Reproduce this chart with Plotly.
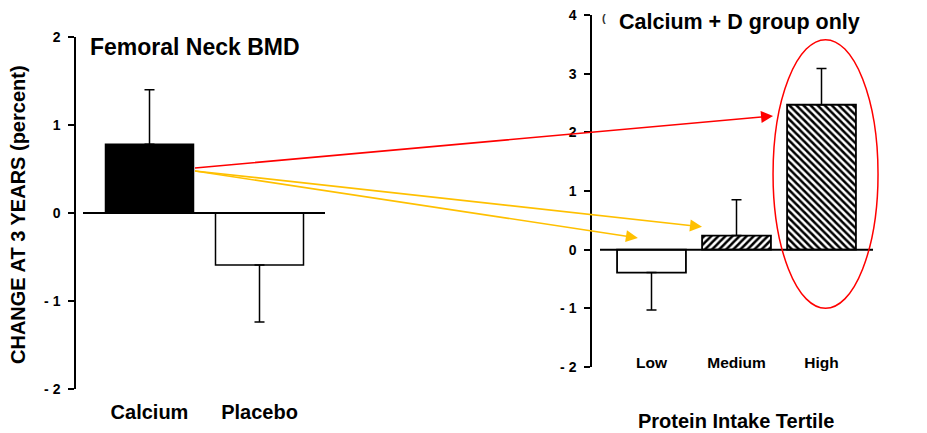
import plotly.graph_objects as go

W, H = 927, 433

# ---- data ----
left_categories = ["Calcium", "Placebo"]
left_values = [0.78, -0.59]
left_errors = [0.62, 0.65]

right_categories = ["Low", "Medium", "High"]
right_values = [-0.39, 0.24, 2.47]
right_errors = [0.64, 0.61, 0.62]

left_tickvals = [-2, -1, 0, 1, 2]
left_ticktext = ["- 2", "- 1", "0", "1", "2"]
right_tickvals = [-2, -1, 0, 1, 2, 3, 4]
right_ticktext = ["- 2", "- 1", "0", "1", "2", "3", "4"]

FONT = "Liberation Sans, Arial, sans-serif"

# ---- layout geometry (pixels) ----
L_xdom = (83, 325); L_xrange = [(83 - 149.5) / 110, (325 - 149.5) / 110]
L_ydom = (37, 389); L_yrange = [-2, 2]
R_xdom = (600, 882); R_xrange = [(600 - 651.5) / 85, (882 - 651.5) / 85]
R_ydom = (15, 367); R_yrange = [-2, 4]


def px(v, dom, rng):
    return dom[0] + (v - rng[0]) / (rng[1] - rng[0]) * (dom[1] - dom[0])


def py(v, dom, rng):
    return dom[1] - (v - rng[0]) / (rng[1] - rng[0]) * (dom[1] - dom[0])


def split_err(vals, errs):
    up = [e if v >= 0 else 0 for v, e in zip(vals, errs)]
    dn = [e if v < 0 else 0 for v, e in zip(vals, errs)]
    return up, dn


fig = go.Figure()

lu, ld = split_err(left_values, left_errors)
fig.add_trace(go.Bar(
    x=left_categories, y=left_values, width=0.8,
    marker=dict(color=["black", "white"], line=dict(color="black", width=1.5)),
    error_y=dict(type="data", symmetric=False, array=lu, arrayminus=ld,
                 color="black", thickness=1.5, width=5),
    xaxis="x", yaxis="y", showlegend=False,
))

ru, rd = split_err(right_values, right_errors)
fig.add_trace(go.Bar(
    x=right_categories, y=right_values, width=0.81,
    marker=dict(color="white", line=dict(color="black", width=1.8),
                pattern=dict(shape=["", "/", "\\"], fgcolor="black", bgcolor="white",
                             size=5, solidity=0.5)),
    error_y=dict(type="data", symmetric=False, array=ru, arrayminus=rd,
                 color="black", thickness=1.5, width=5),
    xaxis="x2", yaxis="y2", showlegend=False,
))

axis_common = dict(showgrid=False, zeroline=False, linecolor="black", linewidth=1.5,
                   automargin=False, ticklabelstandoff=5,
                   tickfont=dict(family=FONT, size=14, color="black", weight="bold"))

fig.update_layout(
    template="none",
    width=W, height=H,
    margin=dict(l=0, r=0, t=0, b=0, pad=0, autoexpand=False),
    paper_bgcolor="white", plot_bgcolor="rgba(0,0,0,0)",
    xaxis=dict(domain=[L_xdom[0] / W, L_xdom[1] / W], range=L_xrange, showgrid=False,
               zeroline=False, showline=False, ticks="", anchor="free", automargin=False,
               position=1 - 398 / H,
               tickfont=dict(family=FONT, size=20, color="black", weight="bold")),
    yaxis=dict(domain=[1 - L_ydom[1] / H, 1 - L_ydom[0] / H], range=L_yrange,
               anchor="free", position=75 / W, showline=True, ticks="outside",
               ticklen=6, tickwidth=1.5, tickcolor="black",
               tickvals=left_tickvals, ticktext=left_ticktext, **axis_common),
    xaxis2=dict(domain=[R_xdom[0] / W, R_xdom[1] / W], range=R_xrange, showgrid=False,
                zeroline=False, showline=False, ticks="", anchor="free", automargin=False,
                position=1 - 351 / H,
                tickfont=dict(family=FONT, size=15.5, color="black", weight="bold")),
    yaxis2=dict(domain=[1 - R_ydom[1] / H, 1 - R_ydom[0] / H], range=R_yrange,
                anchor="free", position=591 / W, showline=True, ticks="outside",
                ticklen=6, tickwidth=1.5, tickcolor="black",
                tickvals=right_tickvals, ticktext=right_ticktext, **axis_common),
)

shapes = [
    dict(type="line", xref="x", yref="y", x0=L_xrange[0], x1=L_xrange[1], y0=0, y1=0,
         line=dict(color="black", width=2)),
    dict(type="line", xref="x2", yref="y2", x0=R_xrange[0], x1=len(right_categories) - 1 + 0.606,
         y0=0, y1=0, line=dict(color="black", width=2)),
    dict(type="circle", xref="x2", yref="y2", x0=1.43, x1=2.665, y0=-1.0, y1=3.58,
         line=dict(color="red", width=1.5)),
]
fig.update_layout(shapes=shapes)

# annotations: titles
ann = [
    dict(text="Femoral Neck BMD", xref="paper", yref="paper", x=88 / W, y=1 - 47 / H,
         xanchor="left", yanchor="middle", showarrow=False,
         font=dict(family=FONT, size=23, color="black", weight="bold")),
    dict(text="(", xref="paper", yref="paper", x=604 / W, y=1 - 18 / H,
         xanchor="center", yanchor="middle", showarrow=False,
         font=dict(family=FONT, size=11, color="#333333", weight="bold")),
    dict(text="Calcium + D group only", xref="paper", yref="paper", x=617 / W, y=1 - 22 / H,
         xanchor="left", yanchor="middle", showarrow=False,
         font=dict(family=FONT, size=21.5, color="black", weight="bold")),
    dict(text="Protein Intake Tertile", xref="paper", yref="paper", x=736 / W, y=1 - 421 / H,
         xanchor="center", yanchor="middle", showarrow=False,
         font=dict(family=FONT, size=20, color="black", weight="bold")),
    dict(text="CHANGE AT 3 YEARS (percent)", xref="paper", yref="paper", x=18 / W, y=1 - 215 / H,
         xanchor="center", yanchor="middle", showarrow=False, textangle=-90,
         font=dict(family=FONT, size=20, color="black", weight="bold")),
]

# arrows from Calcium bar to tertile bars
tail_x = 0 + 0.4  # right edge of Calcium bar (category 0)
arrows = [
    (0.51, 1.43, 2.28, "red"),
    (0.48, 0.594, 0.39, "#FFC000"),
    (0.48, -0.16, 0.20, "#FFC000"),
]
for ty, hx, hy, col in arrows:
    tpx = px(tail_x, L_xdom, L_xrange); tpy = py(ty, L_ydom, L_yrange)
    hpx = px(hx, R_xdom, R_xrange); hpy = py(hy, R_ydom, R_yrange)
    ann.append(dict(x=hx, y=hy, xref="x2", yref="y2", axref="pixel", ayref="pixel",
                    ax=tpx - hpx, ay=tpy - hpy, text="", showarrow=True,
                    arrowhead=2, arrowsize=1.5, arrowwidth=1.6, arrowcolor=col,
                    standoff=0))

fig.update_layout(annotations=ann)

fig.write_html("out.html", config={"displayModeBar": False},
               post_script="document.body.style.margin='0';")
